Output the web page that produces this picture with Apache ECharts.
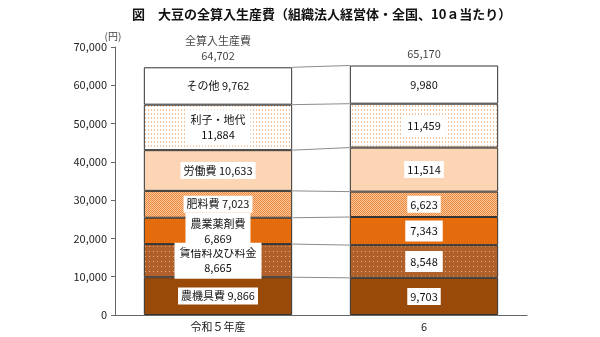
<!DOCTYPE html>
<html>
<head>
<meta charset="utf-8">
<script src="https://cdn.jsdelivr.net/npm/echarts@6/dist/echarts.min.js"></script>
<style>
  html, body { margin: 0; padding: 0; background: #fff; }
  #chart { width: 600px; height: 337px; }
</style>
</head>
<body>
<div id="chart"></div>
<script>
// Years on the x axis
const years = ['令和５年産', '6'];
// Cost items, bottom to top of each stacked bar
const items = ['農機具費', '賃借料及び料金', '農業薬剤費', '肥料費', '労働費', '利子・地代', 'その他'];
// Yen per 10a, one array per year
const costsR5 = [9866, 8665, 6869, 7023, 10633, 11884, 9762];
const costsR6 = [9703, 8548, 7343, 6623, 11514, 11459, 9980];
// Total production cost per year
const totals = [64702, 65170];
const totalName = '全算入生産費';
// Y axis ticks
const yTicks = [0, 10000, 20000, 30000, 40000, 50000, 60000, 70000];

// Items whose first-year label is split into two lines
const twoLine = new Set(['賃借料及び料金', '農業薬剤費', '利子・地代']);

function fmt(v) { return v.toLocaleString('en-US'); }

function makePattern(w, h, draw) {
  const c = document.createElement('canvas');
  c.width = w; c.height = h;
  const ctx = c.getContext('2d');
  draw(ctx);
  return { image: c, repeat: 'repeat' };
}

// Fills for each item
const fills = [
  '#9A4A08',
  makePattern(4, 5, ctx => {
    ctx.fillStyle = '#B0602A'; ctx.fillRect(0, 0, 4, 5);
    ctx.fillStyle = '#E2AE80'; ctx.fillRect(1, 1, 1, 1);
  }),
  '#E46C0C',
  makePattern(2, 2, ctx => {
    ctx.fillStyle = '#F9C59C'; ctx.fillRect(0, 0, 2, 2);
    ctx.fillStyle = '#EE8A3E'; ctx.fillRect(0, 0, 1, 1); ctx.fillRect(1, 1, 1, 1);
  }),
  '#FCD5B4',
  makePattern(3, 4, ctx => {
    ctx.fillStyle = '#FFFFFF'; ctx.fillRect(0, 0, 3, 4);
    ctx.fillStyle = '#F7C39A'; ctx.fillRect(1, 1, 1, 2);
  }),
  '#FFFFFF'
];

const labelFont = '"Noto Sans CJK JP", sans-serif';

const barSeries = items.map((name, i) => ({
  name: name,
  type: 'bar',
  stack: 'cost',
  barWidth: '72%',
  itemStyle: { color: fills[i], borderColor: '#333', borderWidth: 1 },
  label: {
    show: true,
    position: 'inside',
    color: '#111',
    fontSize: 11,
    fontFamily: labelFont,
    lineHeight: 15,
    backgroundColor: '#fff',
    padding: twoLine.has(name) ? [3, 5] : [1, 3]
  },
  emphasis: { disabled: true },
  data: [
    {
      value: costsR5[i],
      label: { formatter: twoLine.has(name) ? name + '\n' + fmt(costsR5[i]) : name + ' ' + fmt(costsR5[i]) }
    },
    {
      value: costsR6[i],
      label: { formatter: fmt(costsR6[i]) }
    }
  ],
  z: 3
}));

// Connector lines between the segment tops of the two bars
const cum5 = [], cum6 = [];
let a = 0, b = 0;
for (let i = 0; i < items.length; i++) {
  a += costsR5[i]; b += costsR6[i];
  cum5.push(a); cum6.push(b);
}
const connectorData = cum5.map((v, i) => ({ value: [0, v, cum6[i]] }));

const connectorSeries = {
  type: 'custom',
  silent: true,
  encode: { x: 0, y: 1 },
  data: connectorData,
  z: 1,
  renderItem: function (params, api) {
    const band = api.size([1, 0])[0];
    const half = band * 0.36;
    const p1 = api.coord([0, api.value(1)]);
    const p2 = api.coord([1, api.value(2)]);
    return {
      type: 'line',
      shape: { x1: p1[0] + half, y1: p1[1], x2: p2[0] - half, y2: p2[1] },
      style: { stroke: '#8c8c8c', lineWidth: 1 }
    };
  }
};

// Total labels above each bar
const totalSeries = {
  type: 'scatter',
  symbolSize: 0,
  silent: true,
  data: totals.map((t, i) => ({
    value: [i, t],
    label: { formatter: i === 0 ? totalName + '\n' + fmt(t) : fmt(t) }
  })),
  label: {
    show: true,
    position: 'top',
    distance: 4,
    color: '#111',
    fontSize: 11,
    fontFamily: labelFont,
    lineHeight: 15
  },
  z: 5
};

const chart = echarts.init(document.getElementById('chart'), null, { renderer: 'canvas' });
chart.setOption({
  animation: false,
  backgroundColor: '#fff',
  title: {
    text: '図　大豆の全算入生産費（組織法人経営体・全国、10ａ当たり）',
    left: 127,
    top: 3,
    textStyle: { fontSize: 13, fontWeight: 'bold', color: '#111', fontFamily: labelFont }
  },
  grid: { left: 115, right: 73, top: 47, bottom: 22, containLabel: false },
  xAxis: {
    type: 'category',
    data: years,
    axisLine: { lineStyle: { color: '#666', width: 1 } },
    axisTick: { show: false },
    axisLabel: { color: '#222', fontSize: 11, fontFamily: labelFont, margin: 6 }
  },
  yAxis: {
    type: 'value',
    min: yTicks[0],
    max: yTicks[yTicks.length - 1],
    interval: yTicks[1] - yTicks[0],
    name: '(円)',
    nameLocation: 'end',
    nameGap: 4,
    nameTextStyle: { color: '#444', fontSize: 10, fontFamily: labelFont, padding: [0, 0, 0, -4] },
    axisLine: { show: true, lineStyle: { color: '#666', width: 1 } },
    axisTick: { show: true, length: 4, inside: false, lineStyle: { color: '#666' } },
    splitLine: { show: false },
    axisLabel: {
      color: '#222', fontSize: 11, fontFamily: labelFont, margin: 8,
      formatter: v => fmt(v)
    }
  },
  series: [connectorSeries, ...barSeries, totalSeries]
});
</script>
</body>
</html>
